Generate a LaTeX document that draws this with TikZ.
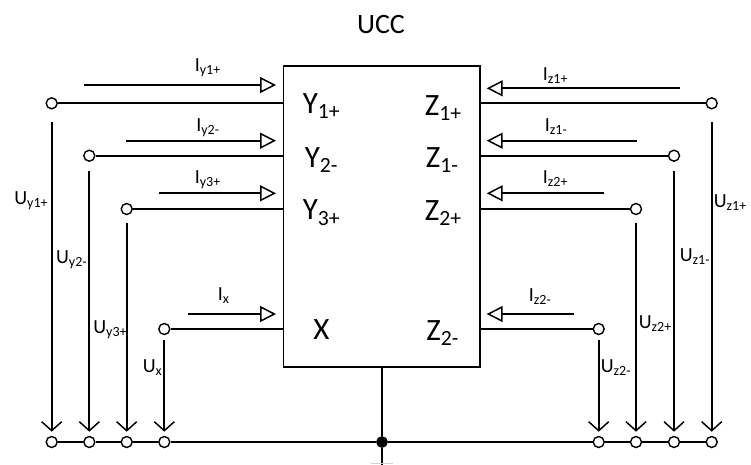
\documentclass[tikz,border=0pt]{standalone}
\usepackage{fontspec}
\setmainfont{Carlito}
\usetikzlibrary{arrows.meta}
\tikzset{
  term/.style={circle, draw, fill=white, minimum size=11pt, inner sep=0pt, line width=1.4pt},
  gdot/.style={circle, draw, fill=black, minimum size=10pt, inner sep=0pt},
  carrow/.style={-{Triangle[open, length=16pt, width=16pt, line width=1.5pt]}},
  varrow/.style={-{Straight Barb[length=9pt, width=20pt, line width=1.5pt]}},
  portlbl/.style={font=\fontsize{31}{34}\selectfont, anchor=base west, inner sep=0pt},
  curlbl/.style={font=\fontsize{20}{23}\selectfont, anchor=base west, inner sep=0pt},
  voltw/.style={font=\fontsize{20}{23}\selectfont, anchor=base east, inner sep=0pt},
  volte/.style={font=\fontsize{20}{23}\selectfont, anchor=base west, inner sep=0pt},
  titlelbl/.style={font=\fontsize{28}{31}\selectfont, anchor=base, inner sep=0pt}
}
\begin{document}
\begin{tikzpicture}[x=1pt, y=-1pt, line width=1.7pt]
\useasboundingbox (0,0) rectangle (751,464);
% box
\node[draw, anchor=north west, minimum width=196.5pt, minimum height=301pt, inner sep=0pt, outer sep=0pt] (box) at (283.5,65.7) {};
\node[titlelbl] (ucc) at (381,33) {UCC};
% terminals
\node[term] (ly1) at (51.7,103.3) {};
\node[term] (ly2) at (89.3,155.7) {};
\node[term] (ly3) at (126.7,209) {};
\node[term] (lx)  at (164.3,329) {};
\node[term] (rz1p) at (711.7,103.3) {};
\node[term] (rz1m) at (674,155.7) {};
\node[term] (rz2p) at (636,209) {};
\node[term] (rz2m) at (598.7,329) {};
\node[term] (b1) at (51.7,442) {};
\node[term] (b2) at (89.3,442) {};
\node[term] (b3) at (126.7,442) {};
\node[term] (b4) at (164.3,442) {};
\node[term] (b5) at (598.7,442) {};
\node[term] (b6) at (636,442) {};
\node[term] (b7) at (674,442) {};
\node[term] (b8) at (711.7,442) {};
\node[gdot] (gnd) at (382,442) {};
\coordinate (earth) at (382,465);
% port wires
\draw (ly1) -- (ly1 -| box.west);
\draw (ly2) -- (ly2 -| box.west);
\draw (ly3) -- (ly3 -| box.west);
\draw (lx) -- (lx -| box.west);
\draw (rz1p) -- (rz1p -| box.east);
\draw (rz1m) -- (rz1m -| box.east);
\draw (rz2p) -- (rz2p -| box.east);
\draw (rz2m) -- (rz2m -| box.east);
% ground bus
\draw (b1) -- (b2);
\draw (b2) -- (b3);
\draw (b3) -- (b4);
\draw (b4) -- (gnd);
\draw (gnd) -- (b5);
\draw (b5) -- (b6);
\draw (b6) -- (b7);
\draw (b7) -- (b8);
\draw (box.south -| gnd) -- (gnd);
\draw (gnd) -- (earth);
\draw[gray!35, line width=1pt] (371,463.5) -- (393,463.5);
% voltage arrows
\coordinate (tipy) at (0,431.7);
\coordinate (uy1s) at (51.7,121.7);
\coordinate (uy2s) at (89.3,170.7);
\coordinate (uy3s) at (126.7,223);
\coordinate (uxs)  at (164.3,340);
\coordinate (uz1ps) at (711.7,122);
\coordinate (uz1ms) at (674,170.7);
\coordinate (uz2ps) at (636,223);
\coordinate (uz2ms) at (598.7,340);
\draw[varrow] (uy1s) -- (uy1s |- tipy);
\draw[varrow] (uy2s) -- (uy2s |- tipy);
\draw[varrow] (uy3s) -- (uy3s |- tipy);
\draw[varrow] (uxs) -- (uxs |- tipy);
\draw[varrow] (uz1ps) -- (uz1ps |- tipy);
\draw[varrow] (uz1ms) -- (uz1ms |- tipy);
\draw[varrow] (uz2ps) -- (uz2ps |- tipy);
\draw[varrow] (uz2ms) -- (uz2ms |- tipy);
% current arrows
\coordinate (iy1s) at (84,85);    \coordinate (iy1e) at (276,85);
\coordinate (iy2s) at (126,140.7); \coordinate (iy2e) at (276,140.7);
\coordinate (iy3s) at (158.7,193.3); \coordinate (iy3e) at (276,193.3);
\coordinate (ixs) at (188,314);   \coordinate (ixe) at (276,314);
\coordinate (iz1ps) at (680,88.3); \coordinate (iz1pe) at (486.7,88.3);
\coordinate (iz1ms) at (636.7,140.7); \coordinate (iz1me) at (486.7,140.7);
\coordinate (iz2ps) at (604.3,193.3); \coordinate (iz2pe) at (486.7,193.3);
\coordinate (iz2ms) at (574.3,314); \coordinate (iz2me) at (486.7,314);
\draw[carrow] (iy1s) -- (iy1e);
\draw[carrow] (iy2s) -- (iy2e);
\draw[carrow] (iy3s) -- (iy3e);
\draw[carrow] (ixs) -- (ixe);
\draw[carrow] (iz1ps) -- (iz1pe);
\draw[carrow] (iz1ms) -- (iz1me);
\draw[carrow] (iz2ps) -- (iz2pe);
\draw[carrow] (iz2ms) -- (iz2me);
% current labels
\node[curlbl] (liy1) at (194,71.7) {I\textsubscript{y1+}};
\node[curlbl] (liy2) at (195.5,131) {I\textsubscript{y2-}};
\node[curlbl] (liy3) at (194,183.3) {I\textsubscript{y3+}};
\node[curlbl] (lix) at (217,300) {I\textsubscript{x}};
\node[curlbl] (liz1p) at (542,80) {I\textsubscript{z1+}};
\node[curlbl] (liz1m) at (544,131.7) {I\textsubscript{z1-}};
\node[curlbl] (liz2p) at (542,183.3) {I\textsubscript{z2+}};
\node[curlbl] (liz2m) at (528,301.7) {I\textsubscript{z2-}};
% port labels
\node[portlbl] (py1) at (302,113) {Y\textsubscript{1+}};
\node[portlbl] (py2) at (304,167) {Y\textsubscript{2-}};
\node[portlbl] (py3) at (302,219.5) {Y\textsubscript{3+}};
\node[portlbl] (px) at (312.5,339.5) {X};
\node[portlbl] (pz1p) at (424,115) {Z\textsubscript{1+}};
\node[portlbl] (pz1m) at (425,167) {Z\textsubscript{1-}};
\node[portlbl] (pz2p) at (424,220) {Z\textsubscript{2+}};
\node[portlbl] (pz2m) at (425.5,340) {Z\textsubscript{2-}};
% voltage labels
\node[voltw] (luy1) at (49,204) {U\textsubscript{y1+}};
\node[voltw] (luy2) at (88,263) {U\textsubscript{y2-}};
\node[voltw] (luy3) at (128,333) {U\textsubscript{y3+}};
\node[voltw] (lux) at (163,372) {U\textsubscript{x}};
\node[volte] (luz1p) at (713,207) {U\textsubscript{z1+}};
\node[volte] (luz1m) at (679,261) {U\textsubscript{z1-}};
\node[volte] (luz2p) at (638,328) {U\textsubscript{z2+}};
\node[volte] (luz2m) at (600,372) {U\textsubscript{z2-}};
\end{tikzpicture}
\end{document}
